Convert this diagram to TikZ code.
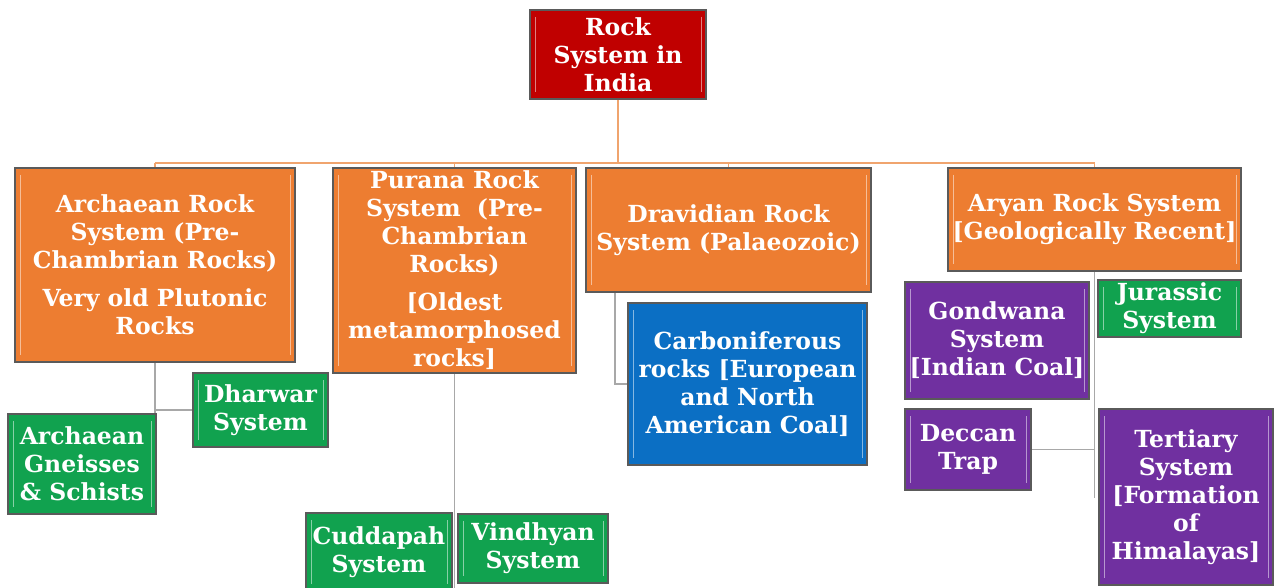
\documentclass[tikz,border=0pt]{standalone}
\usepackage{fontspec}
\setmainfont{DejaVu Serif}
\usetikzlibrary{backgrounds}
\definecolor{cOrange}{HTML}{ED7D31}
\definecolor{cRed}{HTML}{C00000}
\definecolor{cGreen}{HTML}{11A24F}
\definecolor{cPurple}{HTML}{7030A0}
\definecolor{cBlue}{HTML}{0B6FC4}
\definecolor{cLine}{HTML}{A8A8A8}
\definecolor{cBorder}{HTML}{5A5A5A}
\definecolor{cBus}{HTML}{F0A46E}
\tikzset{
  sz/.style 2 args={minimum width=#1pt, minimum height=#2pt},
  box/.style={draw=cBorder, line width=1.5pt, inner sep=0pt, text=white, align=center,
    font=\fontsize{23.5}{28}\selectfont\bfseries,
    path picture={
      \draw[white, opacity=0.5, line width=1pt]
        ([xshift=5pt,yshift=-7pt]path picture bounding box.north west) --
        ([xshift=5pt,yshift=7pt]path picture bounding box.south west);
      \draw[white, opacity=0.5, line width=1pt]
        ([xshift=-5pt,yshift=-7pt]path picture bounding box.north east) --
        ([xshift=-5pt,yshift=7pt]path picture bounding box.south east);}},
  rootbox/.style={box, fill=cRed},
  orangebox/.style={box, fill=cOrange},
  greenbox/.style={box, fill=cGreen},
  purplebox/.style={box, fill=cPurple},
  bluebox/.style={box, fill=cBlue},
  bus/.style={draw=cBus, line width=1.5pt},
  tie/.style={draw=cLine, line width=1.3pt}
}
\begin{document}
\begin{tikzpicture}[x=1pt,y=-1pt]
\useasboundingbox (0,0) rectangle (1276,588);
% root
\node[rootbox, sz={176}{89}] (root) at (618,54.5) {Rock\\System in\\India};
% level 1
\node[orangebox, sz={280}{194}] (arch) at (155,265)
  {Archaean Rock\\System (Pre-\\Chambrian Rocks)\\[10pt]Very old Plutonic\\Rocks};
\node[orangebox, sz={243}{205}] (pura) at (454.5,270.5)
  {Purana Rock\\System\ \ (Pre-\\Chambrian\\Rocks)\\[10pt][Oldest\\metamorphosed\\rocks]};
\node[orangebox, sz={285}{124}] (drav) at (728.5,230)
  {Dravidian Rock\\System (Palaeozoic)};
\node[orangebox, sz={293}{103}] (arya) at (1094.5,219.5)
  {Aryan Rock System\\{}[Geologically Recent]};
% level 2
\node[greenbox, sz={135}{74}] (dhar) at (260.5,410) {Dharwar\\System};
\node[greenbox, sz={148}{100}] (gnei) at (82,464) {Archaean\\Gneisses\\\&\ Schists};
\node[greenbox, sz={146}{78}] (cudd) at (379,552) {Cuddapah\\System};
\node[greenbox, sz={150}{69}] (vind) at (533,548.5) {Vindhyan\\System};
\node[bluebox, sz={239}{162}] (carb) at (747.5,384)
  {Carboniferous\\rocks [European\\and North\\American Coal]};
\node[purplebox, sz={184}{117}] (gond) at (997,340.5) {Gondwana\\System\\{}[Indian Coal]};
\node[greenbox, sz={143}{57}] (jura) at (1169.5,308.5) {Jurassic\\System};
\node[purplebox, sz={126}{81}] (decc) at (968,449.5) {Deccan\\Trap};
\node[purplebox, sz={174}{176}] (tert) at (1186,497)
  {Tertiary\\System\\{}[Formation\\of\\Himalayas]};
% connector points
\coordinate (busmid) at (root.south |- 0,163);
\coordinate (busl) at (arch.north |- 0,163);
\coordinate (busr) at (arya.north |- 0,163);
\coordinate (busp) at (pura.north |- 0,163);
\coordinate (busd) at (drav.north |- 0,163);
\coordinate (aj) at (arch.south |- dhar.west);
\coordinate (ag) at (arch.south |- gnei.north);
\coordinate (pj) at (pura.south |- 0,588);
\coordinate (dtop) at (615,292);
\coordinate (dj) at (615,384);
\coordinate (yj) at (arya.south |- decc.east);
\coordinate (yend) at (arya.south |- 0,498);
\begin{pgfonlayer}{background}
\draw[bus] (root.south) -- (busmid);
\draw[bus] (busl) -- (busr);
\draw[bus] (busl) -- (arch.north);
\draw[bus] (busp) -- (pura.north);
\draw[bus] (busd) -- (drav.north);
\draw[bus] (busr) -- (arya.north);
\draw[tie] (arch.south) -- (ag);
\draw[tie] (aj) -- (dhar.west);
\draw[tie] (pura.south) -- (pj);
\draw[tie] (dtop) -- (dj) -- (carb.west |- dj);
\draw[tie] (arya.south) -- (yend);
\draw[tie] (decc.east) -- (yj);
\end{pgfonlayer}
\end{tikzpicture}
\end{document}
